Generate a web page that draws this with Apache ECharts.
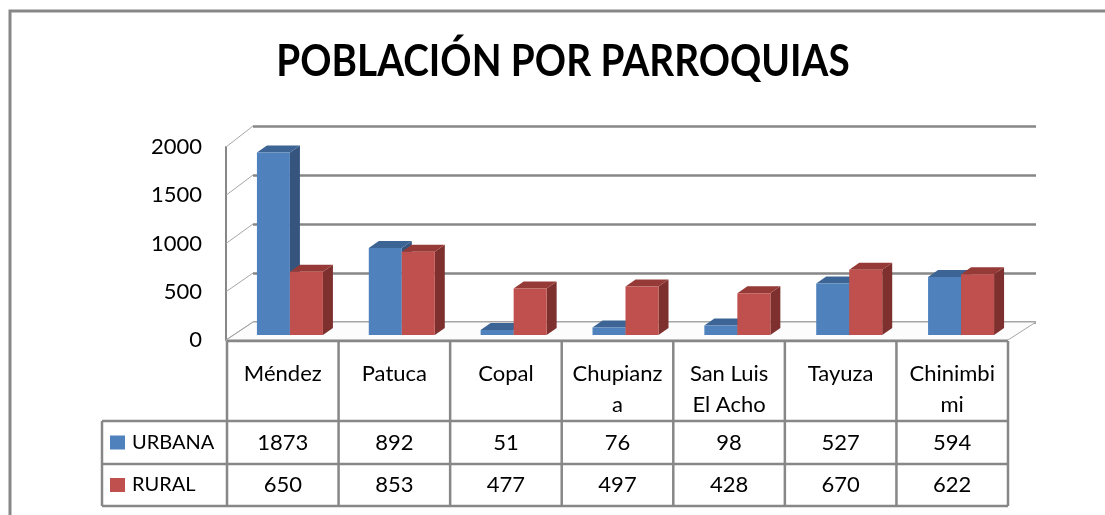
<!DOCTYPE html>
<html>
<head>
<meta charset="utf-8">
<title>Población por parroquias</title>
<script src="https://cdn.jsdelivr.net/npm/echarts@6/dist/echarts.min.js"></script>
<style>
  html, body { margin: 0; padding: 0; background: #fff; }
  #main { width: 1105px; height: 515px; }
</style>
</head>
<body>
<div id="main"></div>
<script>
// datos
var categorias = ['Méndez', 'Patuca', 'Copal', 'Chupianza', 'San Luis El Acho', 'Tayuza', 'Chinimbimi'];
// como se cortan los nombres dentro de la tabla
var etiquetas = ['Méndez', 'Patuca', 'Copal', 'Chupianz\na', 'San Luis\nEl Acho', 'Tayuza', 'Chinimbi\nmi'];
var urbana = [1873, 892, 51, 76, 98, 527, 594];
var rural = [650, 853, 477, 497, 428, 670, 622];
var ticksY = [0, 500, 1000, 1500, 2000];

var fuente = 'Lato, "Open Sans", sans-serif';
var gris = '#878787';

// 3 rejillas: pared del fondo, barras, frente (eje con etiquetas)
var gFondo = { left: 253, right: 69, top: 126, bottom: 193 };
var gBarras = { left: 234, right: 88, top: 140, bottom: 180 };
var gFrente = { left: 226, right: 97, top: 147, bottom: 175 };

// tabla de datos
var tabla = { x0: 102, x1: 227, x2: 1008, yTop: 341, yCat: 421, yUrb: 464, yRur: 506 };

var myChart = echarts.init(document.getElementById('main'));

// barra con efecto 3D (frente, tapa y lado)
function barra3d(izq, cFrente, cTapa, cLado) {
  return function (params, api) {
    var idx = api.value(0);
    var base = api.coord([idx, 0]);
    var tope = api.coord([idx, api.value(1)]);
    var w = 33, dx = 10, dy = -7;
    var x0 = izq ? base[0] - w : base[0];
    var y0 = tope[1], y1 = base[1];
    return {
      type: 'group',
      children: [
        { type: 'polygon', shape: { points: [[x0 + w, y0], [x0 + w + dx, y0 + dy], [x0 + w + dx, y1 + dy], [x0 + w, y1]] }, style: { fill: cLado } },
        { type: 'polygon', shape: { points: [[x0, y0], [x0 + w, y0], [x0 + w + dx, y0 + dy], [x0 + dx, y0 + dy]] }, style: { fill: cTapa } },
        { type: 'rect', shape: { x: x0, y: y0, width: w, height: y1 - y0 }, style: { fill: cFrente } }
      ]
    };
  };
}

function ejeY(idx, extra) {
  var e = {
    gridIndex: idx,
    type: 'value',
    min: ticksY[0],
    max: ticksY[ticksY.length - 1],
    interval: ticksY[1] - ticksY[0],
    axisLabel: { show: false },
    axisLine: { show: false },
    axisTick: { show: false },
    splitLine: { show: false }
  };
  return Object.assign(e, extra || {});
}

var option = {
  animation: false,
  grid: [gFondo, gBarras, gFrente],
  xAxis: [0, 1, 2].map(function (i) {
    return { gridIndex: i, type: 'category', data: categorias, show: false };
  }),
  yAxis: [
    ejeY(0, { splitLine: { show: true, lineStyle: { color: gris, width: 2.5 } } }),
    ejeY(1),
    ejeY(2, {
      axisLabel: {
        show: true, color: '#000', fontSize: 22, fontFamily: fuente, margin: 24,
        formatter: function (v) { return String(v); }
      },
      axisLine: { show: true, lineStyle: { color: gris, width: 2 } }
    })
  ],
  series: [
    {
      name: 'URBANA',
      type: 'custom',
      xAxisIndex: 1,
      yAxisIndex: 1,
      renderItem: barra3d(true, '#4F81BD', '#3C6494', '#35557F'),
      encode: { x: 0, y: 1 },
      data: urbana.map(function (v, i) { return [i, v]; }),
      z: 5
    },
    {
      name: 'RURAL',
      type: 'custom',
      xAxisIndex: 1,
      yAxisIndex: 1,
      renderItem: barra3d(false, '#C0504D', '#953A37', '#7D302E'),
      encode: { x: 0, y: 1 },
      data: rural.map(function (v, i) { return [i, v]; }),
      z: 6
    }
  ]
};

myChart.setOption(option);

// decoracion: piso, pared izquierda, tabla, titulo, borde
var g = [];
var linea = function (x1, y1, x2, y2, color, ancho) {
  g.push({ type: 'line', shape: { x1: x1, y1: y1, x2: x2, y2: y2 }, style: { stroke: color, lineWidth: ancho }, z: 1 });
};

// borde exterior
g.push({ type: 'rect', shape: { x: 10, y: 11, width: 1200, height: 600 }, style: { fill: null, stroke: gris, lineWidth: 3 }, z: 0 });

// titulo (un poco angosto, como la fuente original)
g.push({
  type: 'text', x: 563, y: 62, z: 1, scaleX: 0.88,
  style: { text: 'POBLACIÓN POR PARROQUIAS', fill: '#000', font: 'bold 44px ' + fuente, textAlign: 'center', textVerticalAlign: 'middle' }
});

// piso
var xFr0 = gFrente.left, xFr1 = 1105 - gFrente.right;
var xFo0 = gFondo.left, xFo1 = 1105 - gFondo.right;
var yPisoFr = myChart.convertToPixel({ yAxisIndex: 2 }, 0);
var yPisoFo = myChart.convertToPixel({ yAxisIndex: 0 }, 0);
g.push({
  type: 'polygon', z: 1,
  shape: { points: [[xFr0, yPisoFr], [xFr1, yPisoFr], [xFo1, yPisoFo], [xFo0, yPisoFo]] },
  style: { fill: '#fcfcfc', stroke: '#a6a6a6', lineWidth: 1 }
});

// diagonales de la pared izquierda
ticksY.forEach(function (v) {
  var yf = myChart.convertToPixel({ yAxisIndex: 2 }, v);
  var yb = myChart.convertToPixel({ yAxisIndex: 0 }, v);
  linea(xFr0, yf, xFo0, yb, '#a6a6a6', 1);
});

// lineas de la tabla
var anchoCol = (tabla.x2 - tabla.x1) / categorias.length;
linea(tabla.x1, tabla.yTop, tabla.x2, tabla.yTop, gris, 2.5);
[tabla.yCat, tabla.yUrb, tabla.yRur].forEach(function (y) {
  linea(tabla.x0, y, tabla.x2, y, gris, 2.5);
});
linea(tabla.x0, tabla.yCat, tabla.x0, tabla.yRur, gris, 2.5);
for (var k = 0; k <= categorias.length; k++) {
  var xk = tabla.x1 + k * anchoCol;
  linea(xk, tabla.yTop, xk, tabla.yRur, gris, 2.5);
}

// textos de la tabla
var texto = function (t, x, y, align, vAlign, tam) {
  g.push({
    type: 'text', x: x, y: y, z: 2,
    style: { text: t, fill: '#000', font: (tam || 22) + 'px ' + fuente, textAlign: align, textVerticalAlign: vAlign, lineHeight: 31 }
  });
};
etiquetas.forEach(function (t, i) {
  var xc = tabla.x1 + (i + 0.5) * anchoCol;
  texto(t, xc, 358, 'center', 'top');
  texto(String(urbana[i]), xc, (tabla.yCat + tabla.yUrb) / 2, 'center', 'middle');
  texto(String(rural[i]), xc, (tabla.yUrb + tabla.yRur) / 2, 'center', 'middle');
});

// leyenda dentro de la tabla
[['URBANA', '#4F81BD', tabla.yCat, tabla.yUrb], ['RURAL', '#C0504D', tabla.yUrb, tabla.yRur]].forEach(function (s) {
  var yc = (s[2] + s[3]) / 2;
  g.push({ type: 'rect', z: 2, shape: { x: 110, y: yc - 7, width: 15, height: 14 }, style: { fill: s[1] } });
  texto(s[0], 132, yc, 'left', 'middle', 20);
});

myChart.setOption({ graphic: g });

window.addEventListener('resize', function () {
  myChart.resize();
});
</script>
</body>
</html>
